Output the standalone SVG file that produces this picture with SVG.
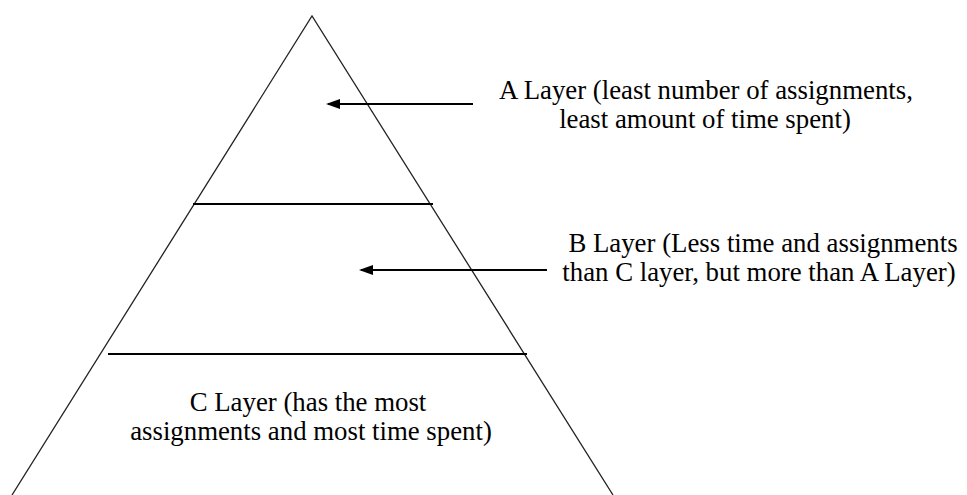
<svg xmlns="http://www.w3.org/2000/svg" width="967" height="495" viewBox="0 0 967 495">
<style>
.side{stroke:#222;stroke-width:1.3;fill:none}
.div{stroke:#000;stroke-width:2;fill:none}
.arr{stroke:#000;stroke-width:2;fill:none;marker-end:url(#ah)}
text{font-family:'Liberation Serif','Times New Roman',serif;font-size:26.8px;fill:#000;text-anchor:middle}
</style>
<defs>
<marker id="ah" markerWidth="7" markerHeight="5" refX="6" refY="2.5" orient="auto" markerUnits="strokeWidth">
<path d="M0,0 L7,2.5 L0,5 Z" fill="#000"/>
</marker>
</defs>
<rect width="967" height="495" fill="#fff"/>
<g id="pyramid">
<path class="side" d="M12,495 L312,16 L613,495"/>
<line class="div" x1="193" y1="204" x2="433" y2="204"/>
<line class="div" x1="108" y1="354" x2="527" y2="354"/>
</g>
<g id="connectors">
<line class="arr" x1="473" y1="104" x2="328" y2="104"/>
<line class="arr" x1="547" y1="270" x2="361" y2="270"/>
</g>
<g id="layerA">
<text x="706" y="99">A Layer (least number of assignments,</text>
<text x="705" y="128">least amount of time spent)</text>
</g>
<g id="layerB">
<text x="763" y="252">B Layer (Less time and assignments</text>
<text x="759" y="281">than C layer, but more than A Layer)</text>
</g>
<g id="layerC">
<text x="308" y="411">C Layer (has the most</text>
<text x="311" y="440">assignments and most time spent)</text>
</g>
</svg>
